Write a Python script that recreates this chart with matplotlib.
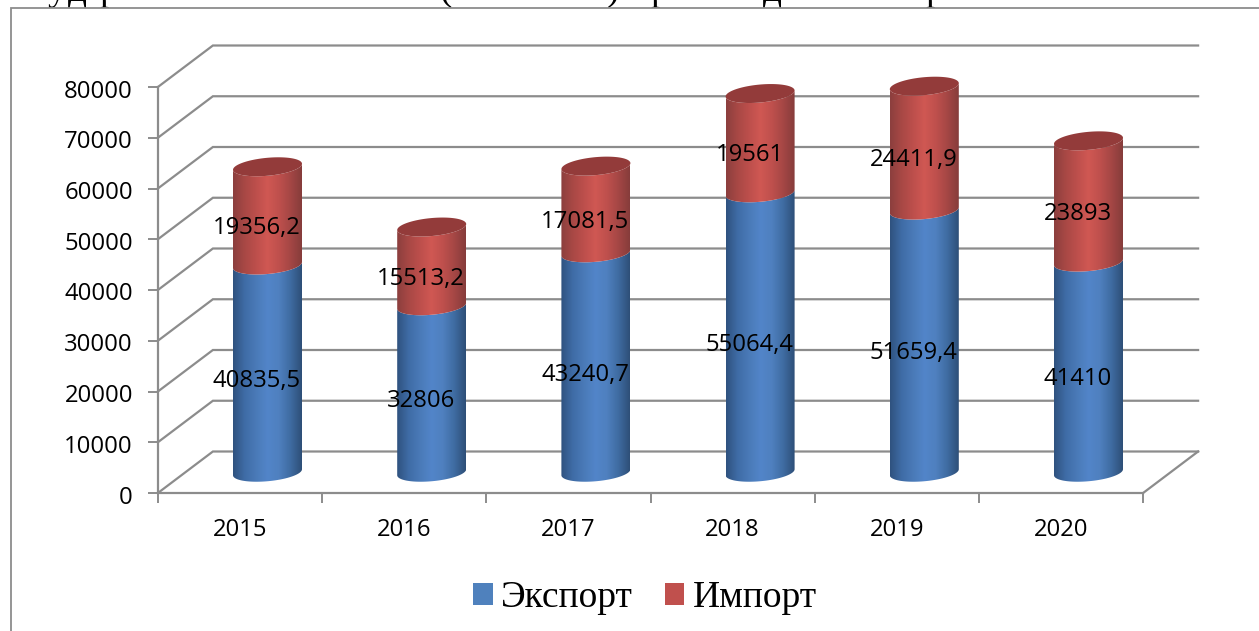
import numpy as np
import matplotlib
matplotlib.use('Agg')
import matplotlib.pyplot as plt
from matplotlib.colors import LinearSegmentedColormap
from matplotlib.patches import Patch, Polygon, Rectangle
from matplotlib.transforms import ScaledTranslation

years = ['2015', '2016', '2017', '2018', '2019', '2020']
export = [40835.5, 32806, 43240.7, 55064.4, 51659.4, 41410]
imports = [19356.2, 15513.2, 17081.5, 19561, 24411.9, 23893]
yticks = [0, 10000, 20000, 30000, 40000, 50000, 60000, 70000, 80000]

W, H = 1259, 631
# pixel scale of the chart
px_x = 164.2        # pixels per category
px_y = 406 / 80000  # pixels per unit value
x0_px, y0_px = 240, 493

depth_x = 55 / px_x
depth_y = 41.5 / px_y
rad_x = 34.5 / px_x
rad_y = 9 / px_y
shear = 3 / px_y

GRID = '#8c8c8c'
SANS = 'Open Sans'
SERIF = 'Liberation Serif'
LABEL_SIZE = 17.2

blue_cmap = LinearSegmentedColormap.from_list('b', ['#2f527f', '#3f6ca6', '#4a7ab8', '#5285c9', '#4f80bf', '#3f6ca2', '#2e4f78'])
red_cmap = LinearSegmentedColormap.from_list('r', ['#8c3f3e', '#a84845', '#bd4f4c', '#d05853', '#bf504d', '#a54745', '#863c3b'])


def ellipse_pts(cx, cy, t):
    return cx + rad_x * np.cos(t), cy + rad_y * np.sin(t) + shear * np.cos(t)


def cylinder(ax, cx, bottom, top, cmap, z):
    t = np.linspace(-np.pi, 0, 60)
    xb, yb = ellipse_pts(cx, bottom, t)
    xt, yt = ellipse_pts(cx, top, t[::-1])
    verts = np.column_stack([np.r_[xb, xt], np.r_[yb, yt]])
    clip = Polygon(verts, closed=True, transform=ax.transData, facecolor='none', edgecolor='none')
    ax.add_patch(clip)
    im = ax.imshow(np.linspace(0, 1, 128).reshape(1, -1), cmap=cmap, aspect='auto', zorder=z,
                   extent=[cx - rad_x, cx + rad_x, bottom - 2 * rad_y, top + 2 * rad_y])
    im.set_clip_path(clip)


def top_cap(ax, cx, top, color, z):
    t = np.linspace(0, 2 * np.pi, 90)
    xs, ys = ellipse_pts(cx, top, t)
    ax.add_patch(Polygon(np.column_stack([xs, ys]), closed=True, facecolor=color, edgecolor='none', zorder=z))


fig = plt.figure(figsize=(W / 100, H / 100), dpi=100)
ax = fig.add_axes([0, 0, 1, 1])

# cropped line of the document above the chart
for x, s in [(47, 'у'), (68, 'д'), (99, 'р'), (439, '('), (607, ')'), (650, 'р'), (763, 'д'), (925, 'р')]:
    ax.text(x / W, 1.0, s, transform=fig.transFigure, family=SERIF, fontsize=27, color='black',
            va='baseline', ha='left', zorder=0.2, clip_on=False)

# chart frame, runs off the right and bottom of the picture
ax.add_patch(Rectangle((11 / W, -0.1), 1.2, 0.1 + (H - 8) / H, transform=fig.transFigure,
                       facecolor='white', edgecolor=GRID, linewidth=1.3, zorder=0.5, clip_on=False))

# back wall and side wall grid
for v in yticks:
    ax.plot([-0.5, -0.5 + depth_x, 5.5 + depth_x], [v, v + depth_y, v + depth_y],
            color=GRID, linewidth=1.6, zorder=1, solid_joinstyle='miter')
ax.plot([5.5, 5.5 + depth_x], [0, depth_y], color=GRID, linewidth=1.6, zorder=1)

for i in range(len(years)):
    cx = i + depth_x / 2
    base = depth_y / 2
    e, m = export[i], imports[i]
    cylinder(ax, cx, base, base + e, blue_cmap, 2)
    cylinder(ax, cx, base + e, base + e + m, red_cmap, 2.1)
    top_cap(ax, cx, base + e + m, '#933b3a', 2.2)
    lx = i + 17 / px_x
    off = 8.5 / px_y
    ax.text(lx, e / 2 + off, str(e).replace('.', ','), ha='center', va='center',
            family=SANS, fontsize=LABEL_SIZE, color='black', zorder=4)
    ax.text(lx, e + m / 2 + off, str(m).replace('.', ','), ha='center', va='center',
            family=SANS, fontsize=LABEL_SIZE, color='black', zorder=4)

ax.set_xlim(-x0_px / px_x, (W - x0_px) / px_x)
ax.set_ylim(-(H - y0_px) / px_y, y0_px / px_y)

for s in ['top', 'right']:
    ax.spines[s].set_visible(False)
ax.spines['left'].set_position(('data', -0.5))
ax.spines['left'].set_bounds(0, 80000)
ax.spines['bottom'].set_position(('data', 0))
ax.spines['bottom'].set_bounds(-0.5, 5.5)
for s in ['left', 'bottom']:
    ax.spines[s].set_color(GRID)
    ax.spines[s].set_linewidth(1.6)
    ax.spines[s].set_zorder(1.5)

ax.set_yticks(yticks)
ax.set_xticks(np.arange(-0.5, 6, 1))
ax.set_xticklabels([])
ax.set_xticks(range(len(years)), labels=years, minor=True)
ax.tick_params(axis='y', length=7, width=1.4, color=GRID, pad=11, labelsize=LABEL_SIZE, labelfontfamily=SANS)
ax.tick_params(axis='x', which='major', length=7, width=1.4, color=GRID)
ax.tick_params(axis='x', which='minor', length=0, pad=18, labelsize=LABEL_SIZE, labelfontfamily=SANS)

# y labels sit a little lower than the tick marks
nudge = ScaledTranslation(0, -1.5 / 100, fig.dpi_scale_trans)
for lab in ax.get_yticklabels():
    lab.set_transform(lab.get_transform() + nudge)

handles = [Patch(facecolor='#4f81bd', label='Экспорт'), Patch(facecolor='#c0504d', label='Импорт')]
ax.legend(handles=handles, ncol=2, loc='center', bbox_to_anchor=(645 / W, 1 - 598 / H),
          bbox_transform=fig.transFigure, frameon=False, prop={'family': SERIF, 'size': 27},
          handlelength=0.52, handleheight=0.52, handletextpad=0.22, columnspacing=0.85)

fig.savefig('out.png', dpi=100)
